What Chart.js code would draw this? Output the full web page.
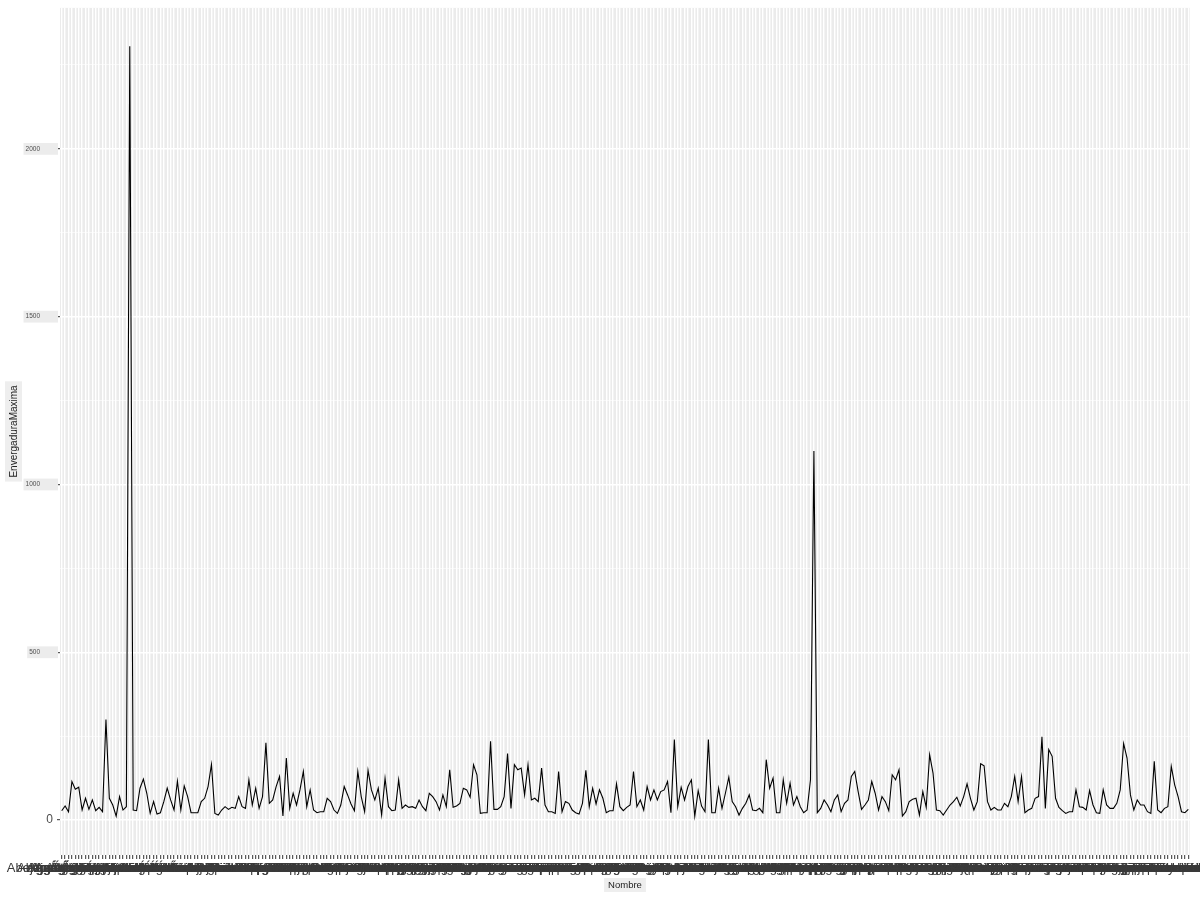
<!DOCTYPE html>
<html>
<head>
<meta charset="utf-8">
<script src="https://cdn.jsdelivr.net/npm/chart.js@4.4.1/dist/chart.umd.min.js"></script>
<style>
  html, body { margin: 0; padding: 0; background: #ffffff; }
  #wrap { width: 1200px; height: 900px; }
</style>
</head>
<body>
<div id="wrap"><canvas id="chart" width="1200" height="900"></canvas></div>
<script>
// Nombre (x categories), alphabetical
const nombres = [
  "Abejaruco europeo", "Abejero europeo", "Abubilla", "Acentor alpino", "Acentor común",
  "Agachadiza chica", "Agachadiza común", "Agateador común", "Agateador norteño", "Águila calzada",
  "Águila culebrera", "Águila esteparia", "Águila imperial", "Águila moteada", "Águila perdicera",
  "Águila pescadora", "Águila real", "Aguilucho cenizo", "Aguilucho lagunero", "Aguilucho pálido",
  "Aguja colinegra", "Aguja colipinta", "Alca común", "Alcaraván común", "Alcatraz atlántico",
  "Alcaudón chico", "Alcaudón común", "Alcaudón dorsirrojo", "Alcaudón real", "Alcotán europeo",
  "Alondra común", "Alondra cornuda", "Alondra ricotí", "Alzacola rojizo", "Ánade azulón",
  "Ánade friso", "Ánade rabudo", "Ánade real", "Andarríos bastardo", "Andarríos chico",
  "Andarríos grande", "Ánsar campestre", "Ánsar careto", "Ánsar común", "Arao común",
  "Archibebe claro", "Archibebe común", "Archibebe oscuro", "Arrendajo euroasiático", "Autillo europeo",
  "Avefría europea", "Avetorillo común", "Avetoro común", "Avión común", "Avión roquero",
  "Avión zapador", "Avoceta común", "Avutarda común", "Azor común",
  "Barnacla cariblanca", "Barnacla carinegra", "Becada euroasiática", "Bengalí rojo", "Bigotudo",
  "Bisbita alpino", "Bisbita arbóreo", "Bisbita campestre", "Bisbita costero", "Bisbita pratense",
  "Búho campestre", "Búho chico", "Búho real", "Buitre leonado", "Buitre negro",
  "Buitrón europeo", "Bulbul común", "Bulbul naranjero", "Busardo ratonero", "Buscarla pintoja",
  "Buscarla unicolor",
  "Calamón común", "Calandria común", "Camachuelo común", "Camachuelo trompetero", "Canastera común",
  "Carbonero común", "Carbonero garrapinos", "Carraca europea", "Carricerín común", "Carricerín real",
  "Carricero común", "Carricero tordal", "Cerceta carretona", "Cerceta común", "Cerceta pardilla",
  "Cernícalo patirrojo", "Cernícalo primilla", "Cernícalo vulgar", "Chocha perdiz", "Chochín paleártico",
  "Chorlitejo chico", "Chorlitejo grande", "Chorlitejo patinegro", "Chorlito dorado", "Chorlito gris",
  "Chotacabras cuellirrojo", "Chotacabras europeo", "Chova piquigualda", "Chova piquirroja", "Cigüeña blanca",
  "Cigüeña negra", "Cigüeñuela común", "Cisne vulgar", "Codorniz común", "Cogujada común",
  "Cogujada montesina", "Colimbo ártico", "Colimbo grande", "Colirrojo diademado", "Colirrojo real",
  "Colirrojo tizón", "Collalba gris", "Collalba negra", "Collalba rubia", "Combatiente",
  "Cormorán grande", "Cormorán moñudo", "Corneja negra", "Corredor sahariano", "Correlimos común",
  "Correlimos gordo", "Correlimos menudo", "Correlimos tridáctilo", "Correlimos zarapitín", "Críalo europeo",
  "Cuco común", "Cuervo grande", "Curruca cabecinegra", "Curruca capirotada", "Curruca mosquitera",
  "Curruca rabilarga", "Curruca tomillera", "Curruca zarcera",
  "Dormilona", "Eider común", "Elanio común", "Escribano cerillo", "Escribano hortelano",
  "Escribano lapón", "Escribano montesino", "Escribano nival", "Escribano palustre", "Escribano soteño",
  "Espátula común", "Estornino negro", "Estornino pinto",
  "Faisán vulgar", "Falaropo picofino", "Flamenco común", "Focha común", "Focha moruna",
  "Fumarel cariblanco", "Fumarel común",
  "Ganga ibérica", "Ganga ortega", "Garceta común", "Garceta grande", "Garcilla bueyera",
  "Garcilla cangrejera", "Garza imperial", "Garza real", "Gavilán común", "Gavilán moro",
  "Gavión atlántico", "Gaviota argéntea", "Gaviota cabecinegra", "Gaviota cana", "Gaviota de Audouin",
  "Gaviota enana", "Gaviota patiamarilla", "Gaviota picofina", "Gaviota reidora", "Gaviota sombría",
  "Gaviota tridáctila", "Golondrina común", "Golondrina dáurica", "Gorrión chillón", "Gorrión común",
  "Gorrión molinero", "Gorrión moruno", "Graja", "Grajilla occidental", "Grulla común",
  "Guion de codornices",
  "Halcón borní", "Halcón de Eleonora", "Halcón gerifalte", "Halcón peregrino", "Halcón sacre",
  "Halcón tagarote", "Havelda", "Herrerillo capuchino", "Herrerillo común",
  "Ibis eremita", "Ibis sagrado", "Jilguero europeo", "Jilguero lúgano",
  "Lagópodo alpino", "Lavandera blanca", "Lavandera boyera", "Lavandera cascadeña", "Lechuza común",
  "Lúgano",
  "Malvasía cabeciblanca", "Martín pescador", "Martinete común", "Mérgulo atlántico", "Milano negro",
  "Milano real", "Mirlo acuático", "Mirlo capiblanco", "Mirlo común", "Mito común",
  "Mochuelo europeo", "Morito común", "Mosquitero bilistado", "Mosquitero boreal", "Mosquitero común",
  "Mosquitero ibérico", "Mosquitero musical", "Mosquitero papialbo", "Mosquitero silbador",
  "Negrón común", "Negrón especulado", "Oropéndola europea", "Ostrero euroasiático",
  "Págalo grande", "Págalo parásito", "Pagaza piconegra", "Pagaza piquirroja", "Paíño europeo",
  "Pájaro moscón", "Paloma bravía", "Paloma torcaz", "Paloma zurita", "Papamoscas acollarado",
  "Papamoscas cerrojillo", "Papamoscas gris", "Pardela balear", "Pardela cenicienta", "Pardela sombría",
  "Pardillo común", "Pato colorado", "Pato cuchara", "Pechiazul", "Pelícano común",
  "Perdiz nival", "Perdiz pardilla", "Perdiz roja", "Petirrojo europeo", "Pico dorsiblanco",
  "Pico mediano", "Pico menor", "Pico picapinos", "Picogordo común", "Pigargo europeo",
  "Pinzón azul", "Pinzón real", "Pinzón vulgar", "Piquituerto común", "Pito negro",
  "Pito real", "Polluela bastarda", "Polluela chica", "Polluela pintoja", "Porrón bastardo",
  "Porrón europeo", "Porrón moñudo", "Porrón pardo",
  "Quebrantahuesos", "Rabihorcado magnífico", "Rabilargo ibérico", "Rascón europeo", "Reyezuelo listado",
  "Reyezuelo sencillo", "Roquero rojo", "Roquero solitario", "Ruiseñor bastardo", "Ruiseñor común",
  "Ruiseñor pechiazul",
  "Serreta chica", "Serreta grande", "Serreta mediana", "Silbón europeo", "Sisón común",
  "Somormujo cuellirrojo", "Somormujo lavanco",
  "Tarabilla común", "Tarabilla norteña", "Tarro blanco", "Tarro canelo", "Terrera común",
  "Terrera marismeña", "Torcecuello euroasiático", "Torillo andaluz", "Tórtola europea", "Tórtola senegalesa",
  "Tórtola turca", "Totovía", "Trepador azul", "Treparriscos", "Triguero",
  "Urogallo común", "Vencejo cafre", "Vencejo común", "Vencejo pálido", "Vencejo real",
  "Vencejo unirrayado", "Verdecillo", "Verderón común", "Verderón serrano", "Vuelvepiedras común",
  "Zampullín común", "Zampullín cuellinegro", "Zarapito real", "Zarapito trinador", "Zarcero común",
  "Zarcero pálido", "Zorzal alirrojo", "Zorzal charlo", "Zorzal común", "Zorzal real"
];

// EnvergaduraMaxima in four stretches
const envergadura1 = [
  28, 42, 25, 115, 92, 98, 30, 65, 32, 60,
  28, 38, 25, 300, 65, 45, 12, 70, 30, 40,
  2306, 30, 28, 95, 122, 80, 20, 55, 18, 22,
  55, 95, 60, 30, 116, 30, 102, 70, 22, 22,
  22, 55, 65, 100, 166, 20, 15, 30, 40, 32,
  38, 35, 70, 40, 35, 120, 45, 95, 35, 70,
  230, 50, 60, 100, 130, 12, 185, 35, 80, 45,
  90, 145, 40, 90, 30, 22, 25, 25, 65, 55,
  30, 20, 45
];
const envergadura2 = [
  100, 75, 48, 28, 145, 70, 25, 148, 90, 60,
  95, 15, 125, 40, 28, 30, 120, 35, 45, 38,
  40, 35, 60, 40, 28, 80, 70, 55, 30, 75,
  40, 150, 38, 42, 50, 95, 90, 68, 165, 135,
  20, 22, 22, 235, 32, 32, 40, 70, 198, 35,
  165, 150, 155, 75, 165, 60, 65, 55, 155, 45,
  25, 25, 20, 145, 25, 55, 50, 30, 22, 18,
  50, 148, 40, 95, 48, 90, 65, 22, 28, 28,
  108, 40, 28
];
const envergadura3 = [
  38, 45, 145, 40, 60, 30, 100, 60, 90, 60,
  85, 90, 115, 22, 240, 40, 98, 60, 100, 120,
  12, 88, 42, 25, 240, 22, 22, 95, 35, 80,
  128, 55, 40, 15, 35, 50, 75, 30, 28, 35,
  22, 180, 95, 125, 22, 22, 120, 50, 110, 45,
  70, 40, 22, 30, 120, 1100, 22, 35, 60, 45,
  25, 60, 75, 25, 50, 60, 130, 145, 85, 32,
  45, 60, 115, 80, 30, 70, 55, 28, 135, 120,
  150, 12, 25
];
const envergadura4 = [
  55, 62, 65, 15, 85, 38, 195, 140, 30, 28,
  15, 30, 45, 55, 68, 42, 70, 108, 65, 30,
  55, 168, 162, 55, 30, 38, 30, 30, 50, 40,
  70, 130, 55, 130, 22, 30, 35, 65, 70, 248,
  35, 210, 190, 65, 38, 28, 20, 25, 25, 90,
  40, 38, 30, 88, 45, 22, 20, 90, 45, 35,
  35, 50, 90, 228, 185, 75, 30, 60, 45, 45,
  25, 20, 175, 30, 22, 35, 40, 160, 105, 70,
  25, 22, 32
];

const yTicks = [0, 250, 500, 750, 1000, 1250, 1500, 1750, 2000, 2250];
const yMin = -104;
const yMax = 2420;

const envergadura = [...envergadura1, ...envergadura2, ...envergadura3, ...envergadura4];
if (envergadura.length !== nombres.length) {
  console.warn("length mismatch", envergadura.length, nombres.length);
}

const FONT = "'Liberation Sans', Arial, sans-serif";
const isMajor = (v) => v % 500 === 0;

const panelBackground = {
  id: "panelBackground",
  beforeDraw(chart) {
    const { ctx, chartArea: a } = chart;
    ctx.save();
    ctx.fillStyle = "#ebebeb";
    ctx.fillRect(a.left, a.top, a.right - a.left, a.bottom - a.top);

    // light boxes behind the axis titles
    ctx.fillStyle = "#eeeeee";
    const yMid = (a.top + a.bottom) / 2;
    ctx.font = "10px " + FONT;
    const yw = ctx.measureText("EnvergaduraMaxima").width;
    ctx.fillRect(5, yMid - yw / 2 - 4, 17, yw + 8);
    ctx.font = "9.5px " + FONT;
    const xw = ctx.measureText("Nombre").width;
    const xMid = (a.left + a.right) / 2;
    ctx.fillRect(xMid - xw / 2 - 4, 878, xw + 8, 14);
    ctx.restore();
  }
};

new Chart(document.getElementById("chart"), {
  type: "line",
  data: {
    labels: nombres,
    datasets: [{
      data: envergadura,
      borderColor: "#000000",
      borderWidth: 1.1,
      pointRadius: 0,
      tension: 0,
      fill: false
    }]
  },
  options: {
    responsive: false,
    animation: false,
    events: [],
    layout: { padding: { top: 7, right: 10, left: 0, bottom: 0 } },
    plugins: {
      legend: { display: false },
      tooltip: { enabled: false }
    },
    scales: {
      x: {
        type: "category",
        offset: true,
        border: { display: false },
        grid: {
          offset: false,
          color: "#ffffff",
          lineWidth: 1.4,
          tickColor: "#333333",
          tickLength: 4,
          tickWidth: 1
        },
        ticks: {
          autoSkip: false,
          maxRotation: 0,
          minRotation: 0,
          padding: 2,
          color: "#3a3a3a",
          font: { size: 13, family: FONT }
        },
        title: {
          display: true,
          text: "Nombre",
          color: "#222222",
          font: { size: 9.5, family: FONT },
          padding: { top: 0, bottom: 9 }
        },
        afterFit(scale) {
          scale.height = 45;
          scale.paddingLeft = 0;
          scale.paddingRight = 0;
        }
      },
      y: {
        min: yMin,
        max: yMax,
        border: { display: false },
        afterBuildTicks(scale) {
          scale.ticks = yTicks.map((v) => ({ value: v }));
        },
        grid: {
          color: "#ffffff",
          lineWidth: (ctx) => (ctx.tick && isMajor(ctx.tick.value) ? 1.4 : 0.6),
          tickColor: (ctx) => (ctx.tick && isMajor(ctx.tick.value) ? "#333333" : "rgba(0,0,0,0)"),
          tickLength: 3,
          tickWidth: 1
        },
        ticks: {
          padding: 4,
          color: "#4d4d4d",
          font: (ctx) => ({
            size: ctx.tick && ctx.tick.value === 0 ? 12 : 6.5,
            family: FONT
          }),
          showLabelBackdrop: (ctx) =>
            !!ctx.tick && ctx.tick.value !== 0 && isMajor(ctx.tick.value),
          backdropColor: "#ececec",
          backdropPadding: { top: 2, bottom: 2, left: 2, right: 5 },
          callback(v) {
            if (v === 0) return "0";
            if (isMajor(v)) return v + "\u2003\u2003";
            return "";
          }
        },
        title: {
          display: true,
          text: "EnvergaduraMaxima",
          color: "#222222",
          font: { size: 10, family: FONT },
          padding: { top: 8, bottom: 0 }
        },
        afterFit(scale) {
          scale.width = 60;
        }
      }
    }
  },
  plugins: [panelBackground]
});
</script>
</body>
</html>
